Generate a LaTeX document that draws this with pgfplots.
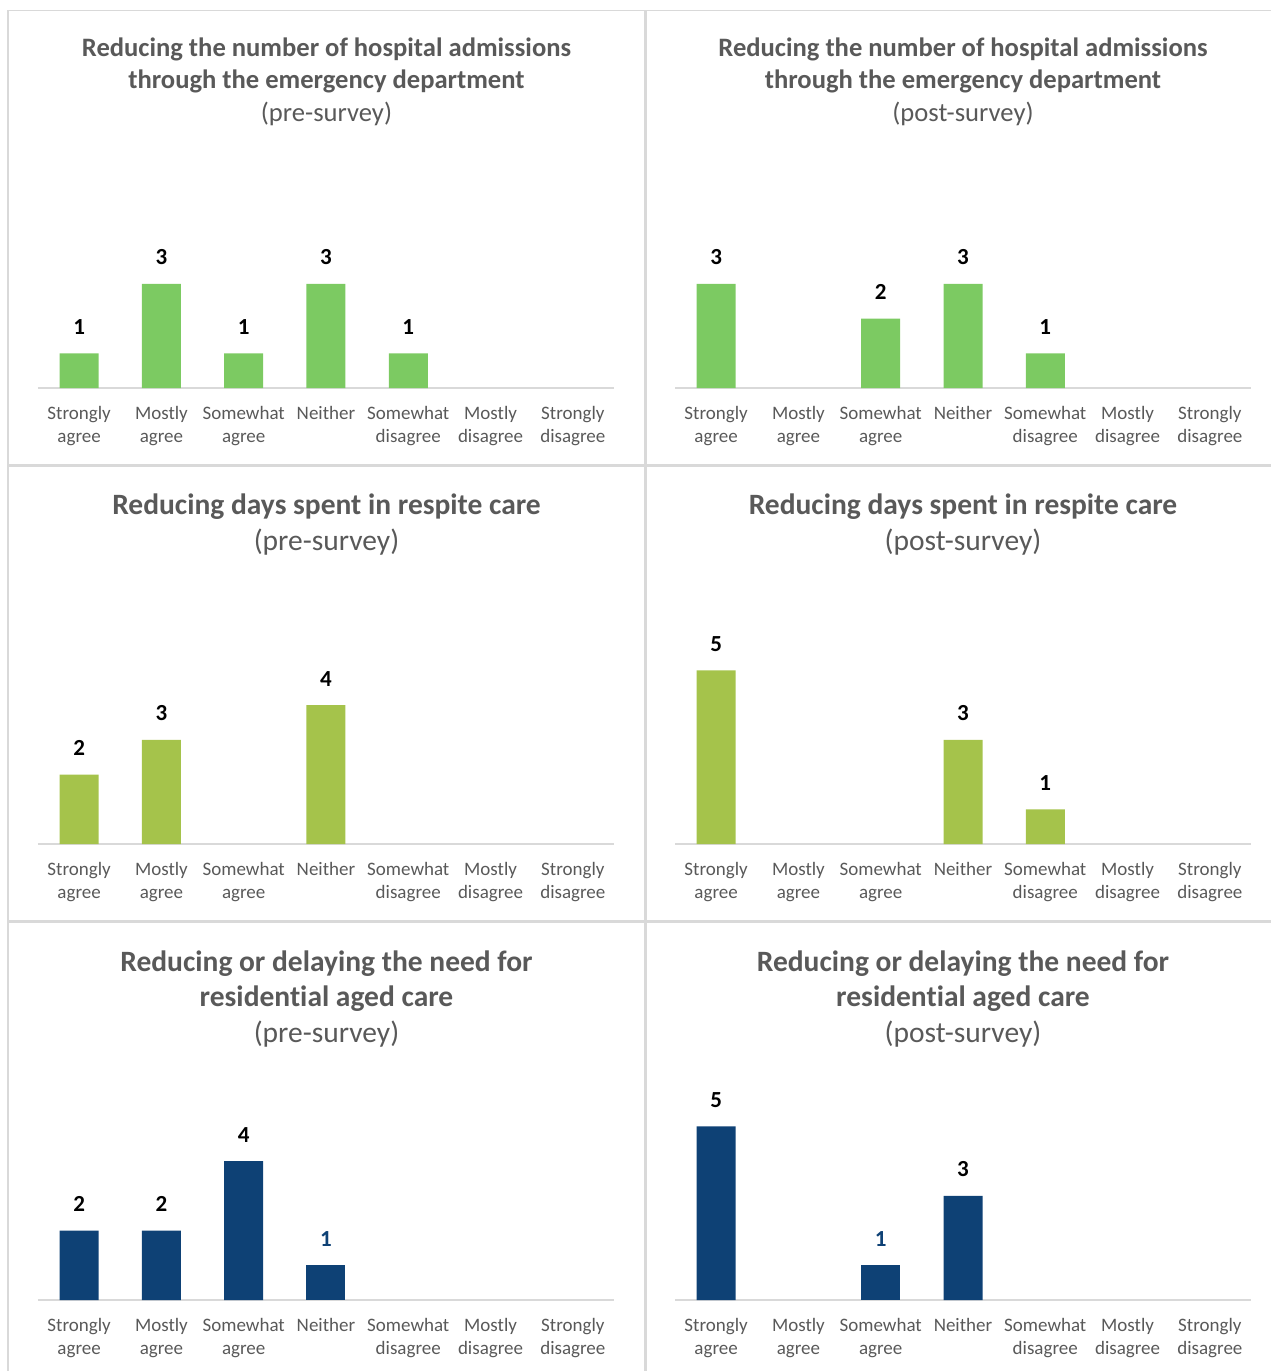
\documentclass[border=0pt]{standalone}
\usepackage{pgfplots}
\pgfplotsset{compat=1.18}
\usepackage{fontspec}
\setmainfont{Carlito}[Ligatures=CommonOff]

\definecolor{txtgray}{HTML}{595959}
\definecolor{rulegray}{HTML}{D9D9D9}
\definecolor{barA}{HTML}{7CCA62}
\definecolor{barB}{HTML}{A5C34B}
\definecolor{barC}{HTML}{0E4175}

\pgfplotsset{
  panel/.style={
    scale only axis, width=576pt, height=208.5pt,
    anchor=south west,
    xmin=-0.5, xmax=6.5, ymin=0, ymax=6,
    axis y line=none, axis x line*=bottom,
    x axis line style={rulegray, line width=2pt, -},
    xtick={0,...,6},
    xticklabels={Strongly\\agree, Mostly\\agree, Somewhat\\agree, Neither,
                 Somewhat\\disagree, Mostly\\disagree, Strongly\\disagree},
    major tick length=0pt,
    xticklabel style={font=\fontsize{19}{23}\selectfont, text=txtgray,
                      align=center, anchor=north, inner sep=0pt, yshift=-18pt},
    ybar, bar width=39pt, bar shift=0pt,
    /pgf/number format/assume math mode=true,
    nodes near coords,
    every node near coord/.append style={font=\fontsize{23}{26}\bfseries\selectfont,
                      text=black, anchor=base, inner sep=0pt, yshift=19pt},
    clip=false,
  },
}
\tikzset{ttl/.style={anchor=base, text=txtgray}}

\begin{document}
\begin{tikzpicture}
\path[use as bounding box] (0,0) rectangle (1271pt,-1371pt);

% panel frames
\draw[rulegray, line width=1.2pt] (8pt,-10.5pt) -- (1271pt,-10.5pt);
\draw[rulegray, line width=2pt] (8pt,-10pt) -- (8pt,-1371pt);
\draw[rulegray, line width=3pt] (645pt,-10pt) -- (645pt,-1371pt);
\draw[rulegray, line width=3pt] (8pt,-465pt) -- (1271pt,-465pt);
\draw[rulegray, line width=3pt] (8pt,-921pt) -- (1271pt,-921pt);

% ---- titles ----
\foreach \cx/\tag in {326.5/pre, 963/post}{
  \node[ttl, font=\fontsize{26.6}{30}\bfseries\selectfont] at (\cx pt,-56pt) {Reducing the number of hospital admissions};
  \node[ttl, font=\fontsize{26.6}{30}\bfseries\selectfont] at (\cx pt,-88pt) {through the emergency department};
  \node[ttl, font=\fontsize{26.6}{30}\selectfont] at (\cx pt,-121pt) {(\tag-survey)};
  \node[ttl, font=\fontsize{29.5}{34}\bfseries\selectfont] at (\cx pt,-514pt) {Reducing days spent in respite care};
  \node[ttl, font=\fontsize{29.5}{34}\selectfont] at (\cx pt,-550pt) {(\tag-survey)};
  \node[ttl, font=\fontsize{29.5}{34}\bfseries\selectfont] at (\cx pt,-971pt) {Reducing or delaying the need for};
  \node[ttl, font=\fontsize{29.5}{34}\bfseries\selectfont] at (\cx pt,-1006pt) {residential aged care};
  \node[ttl, font=\fontsize{29.5}{34}\selectfont] at (\cx pt,-1042pt) {(\tag-survey)};
}

% ---- hospital admissions ----
\begin{axis}[panel, at={(38pt,-388pt)}]
  \addplot[fill=barA, draw=none] coordinates {(0,1) (1,3) (2,1) (3,3) (4,1)};
\end{axis}
\begin{axis}[panel, at={(675pt,-388pt)}]
  \addplot[fill=barA, draw=none] coordinates {(0,3) (2,2) (3,3) (4,1)};
\end{axis}

% ---- respite care ----
\begin{axis}[panel, at={(38pt,-844pt)}]
  \addplot[fill=barB, draw=none] coordinates {(0,2) (1,3) (3,4)};
\end{axis}
\begin{axis}[panel, at={(675pt,-844pt)}]
  \addplot[fill=barB, draw=none] coordinates {(0,5) (3,3) (4,1)};
\end{axis}

% ---- residential aged care ----
\begin{axis}[panel, at={(38pt,-1300pt)}]
  \addplot[fill=barC, draw=none] coordinates {(0,2) (1,2) (2,4)};
  \addplot[fill=barC, draw=none, nodes near coords style={text=barC}] coordinates {(3,1)};
\end{axis}
\begin{axis}[panel, at={(675pt,-1300pt)}]
  \addplot[fill=barC, draw=none] coordinates {(0,5) (3,3)};
  \addplot[fill=barC, draw=none, nodes near coords style={text=barC}] coordinates {(2,1)};
\end{axis}
\end{tikzpicture}
\end{document}
